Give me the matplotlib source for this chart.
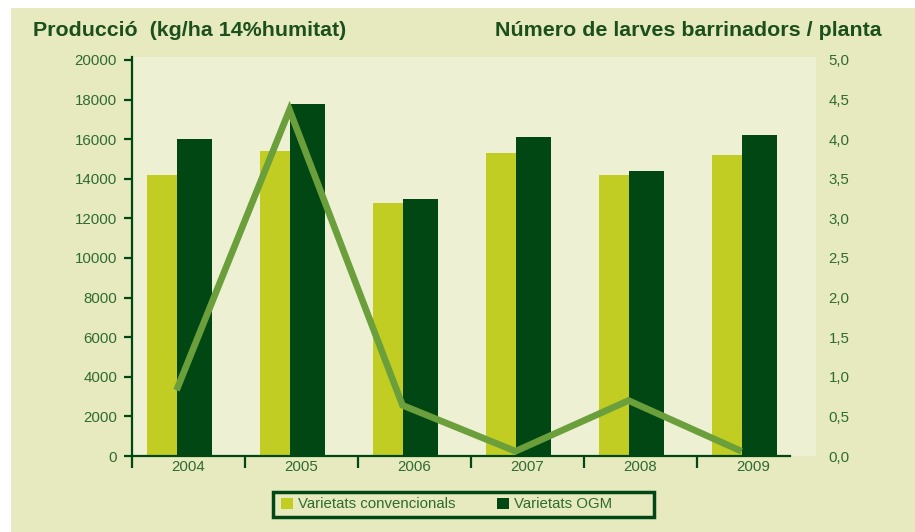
from matplotlib import pyplot as plt
from matplotlib.patches import Patch, Rectangle
from matplotlib.ticker import FuncFormatter
import numpy as np

plt.rcParams['font.family'] = ['Liberation Sans', 'DejaVu Sans']

# data
years = ['2004', '2005', '2006', '2007', '2008', '2009']
conventional = [14200, 15400, 12800, 15300, 14200, 15200]
ogm = [16000, 17800, 13000, 16100, 14400, 16200]
larvae = [0.83, 4.37, 0.64, 0.06, 0.70, 0.06]

# colours
OUTER_BG = '#e7e9bf'
PLOT_BG = '#eef0d3'
CONV_C = '#c2cd23'
OGM_C = '#004713'
LINE_C = '#6a9f3c'
TITLE_C = '#1b4f1c'
TEXT_C = '#2f6b2f'

W, H = 915, 532
fig = plt.figure(figsize=(W / 100, H / 100), dpi=100, facecolor='white')
fig.patches.append(Rectangle((11 / W, 0), 1, 1 - 8 / H, transform=fig.transFigure,
                             facecolor=OUTER_BG, edgecolor='none', zorder=-10))

ax = fig.add_axes([132 / W, 1 - 456 / H, 684 / W, 399 / H])
ax.set_facecolor(PLOT_BG)

x = np.arange(len(years))
ax.bar(x - 0.2345, conventional, width=0.257, color=CONV_C, zorder=2)
ax.bar(x + 0.049, ogm, width=0.31, color=OGM_C, zorder=2)

ax.set_xlim(-0.5, -0.5 + 684 / 113)
ax.set_ylim(0, 20150)
ax.set_yticks(range(0, 20001, 2000))
ax.set_xticks(np.arange(-0.5, 5, 1))
ax.set_xticklabels([])
ax.set_xticks(x, minor=True)
ax.set_xticklabels(years, minor=True)

for s in ['top', 'right']:
    ax.spines[s].set_visible(False)
for s in ['left', 'bottom']:
    ax.spines[s].set_color(OGM_C)
    ax.spines[s].set_linewidth(1.6)
ax.spines['bottom'].set_bounds(-0.5, 5.32)

ax.tick_params(axis='y', direction='out', length=5.8, width=1.6, color=OGM_C,
               labelcolor=TEXT_C, labelsize=10.8, pad=5)
ax.tick_params(axis='x', which='major', direction='out', length=8.6, width=1.6, color=OGM_C)
ax.tick_params(axis='x', which='minor', length=0, labelcolor=TEXT_C, labelsize=10.8, pad=3)

ax2 = ax.twinx()
ax2.plot(x - 0.106, larvae, color=LINE_C, lw=4.8, solid_joinstyle='miter',
         solid_capstyle='butt', zorder=3)
ax2.set_ylim(0, 5 * 20150 / 20000)
ax2.set_yticks(np.arange(0, 5.01, 0.5))
ax2.yaxis.set_major_formatter(FuncFormatter(lambda v, p: f'{v:.1f}'.replace('.', ',')))
ax2.tick_params(axis='y', length=0, labelcolor=TEXT_C, labelsize=10.8, pad=9)
for s in ax2.spines.values():
    s.set_visible(False)

fig.text(33 / W, 1 - 30 / H, 'Producció  (kg/ha 14%humitat)', ha='left', va='center',
         fontsize=15.4, fontweight='bold', color=TITLE_C)
fig.text(882 / W, 1 - 30 / H, 'Número de larves barrinadors / planta', ha='right', va='center',
         fontsize=15.4, fontweight='bold', color=TITLE_C)

# legend frame drawn by hand (padding is uneven in the reference)
fig.patches.append(Rectangle((273 / W, 1 - 517 / H), 381 / W, 25 / H, transform=fig.transFigure,
                             facecolor=OUTER_BG, edgecolor=OGM_C, linewidth=2.5, zorder=1))
handles = [Patch(facecolor=CONV_C, label='Varietats convencionals'),
           Patch(facecolor=OGM_C, label='Varietats OGM')]
leg = fig.legend(handles=handles, loc='center left', bbox_to_anchor=(281 / W, 1 - 504.5 / H),
                 ncol=2, frameon=False, fontsize=10.8, labelcolor=TEXT_C, handlelength=0.8,
                 handleheight=0.8, handletextpad=0.33, columnspacing=2.8, borderpad=0,
                 borderaxespad=0)
leg.set_zorder(2)

fig.savefig('out.png', dpi=100, facecolor=fig.get_facecolor())
